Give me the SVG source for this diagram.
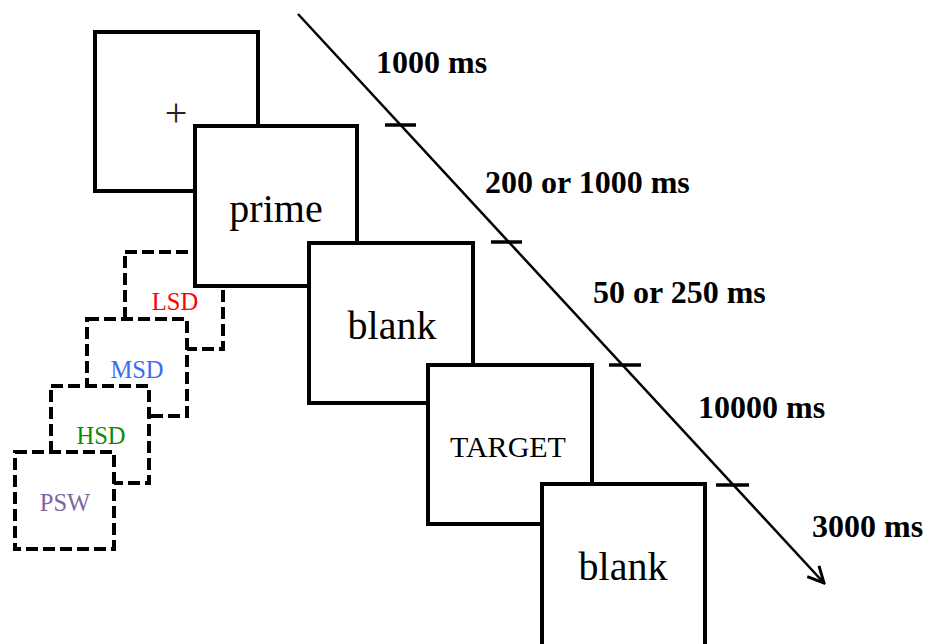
<svg xmlns="http://www.w3.org/2000/svg" width="926" height="644" viewBox="0 0 926 644">
<style>
  .box { fill: #ffffff; stroke: #000000; stroke-width: 4; stroke-linejoin: miter; }
  .dbox { fill: #ffffff; stroke: #000000; stroke-width: 4; stroke-dasharray: 12 5; }
  .big { font-family: "Liberation Serif", "Times New Roman", serif; font-size: 40px; fill: #000; text-anchor: middle; }
  .small { font-family: "Liberation Serif", "Times New Roman", serif; font-size: 24.5px; text-anchor: middle; }
  .time { font-family: "Liberation Serif", "Times New Roman", serif; font-size: 32px; font-weight: bold; fill: #000; }
  .axis { stroke: #000; stroke-width: 2.5; fill: none; }
  .tick { stroke: #000; stroke-width: 3.5; }
</style>
<defs>
  <marker id="arrow" viewBox="0 0 20 20" refX="18" refY="10" markerWidth="20" markerHeight="20" markerUnits="userSpaceOnUse" orient="auto">
    <path d="M2,2 L18,10 L2,18" fill="none" stroke="#000" stroke-width="3"/>
  </marker>
</defs>
<rect width="926" height="644" fill="#ffffff"/>

<g id="fixation">
  <rect class="box" x="95" y="32" width="163" height="159"/>
  <text class="big" x="176" y="126" style="font-size:40px;fill:#222">+</text>
</g>
<g id="lsd">
  <rect class="dbox" x="125" y="252" width="98" height="97"/>
  <text class="small" x="175" y="310" fill="#ff0000">LSD</text>
</g>
<g id="msd">
  <rect class="dbox" x="87" y="319" width="100" height="97"/>
  <text class="small" x="137" y="378" fill="#3b6cf5">MSD</text>
</g>
<g id="hsd">
  <rect class="dbox" x="51" y="386" width="98" height="97"/>
  <text class="small" x="101" y="444" fill="#0e8a0e">HSD</text>
</g>
<g id="psw">
  <rect class="dbox" x="15" y="452" width="99" height="97"/>
  <text class="small" x="65" y="511" fill="#8064a2">PSW</text>
</g>
<g id="prime">
  <rect class="box" x="195" y="126" width="162" height="160"/>
  <text class="big" x="276" y="222">prime</text>
</g>
<g id="blank1">
  <rect class="box" x="309" y="243" width="164" height="160"/>
  <text class="big" x="392" y="339">blank</text>
</g>
<g id="target">
  <rect class="box" x="428" y="365" width="164" height="159"/>
  <text class="big" x="508" y="457" style="font-size:30px">TARGET</text>
</g>
<g id="blank2">
  <rect class="box" x="542" y="484" width="163" height="170"/>
  <text class="big" x="623" y="580">blank</text>
</g>

<g id="connectors">
  <line class="axis" x1="298" y1="14" x2="824" y2="583" marker-end="url(#arrow)"/>
  <line class="tick" x1="385" y1="125" x2="416" y2="125"/>
  <line class="tick" x1="491" y1="242" x2="522" y2="242"/>
  <line class="tick" x1="609" y1="365" x2="641" y2="365"/>
  <line class="tick" x1="716" y1="485" x2="749" y2="485"/>
</g>

<g id="durations">
  <text class="time" x="376" y="73">1000 ms</text>
  <text class="time" x="485" y="193">200 or 1000 ms</text>
  <text class="time" x="593" y="303">50 or 250 ms</text>
  <text class="time" x="698" y="418">10000 ms</text>
  <text class="time" x="812" y="537">3000 ms</text>
</g>
</svg>
